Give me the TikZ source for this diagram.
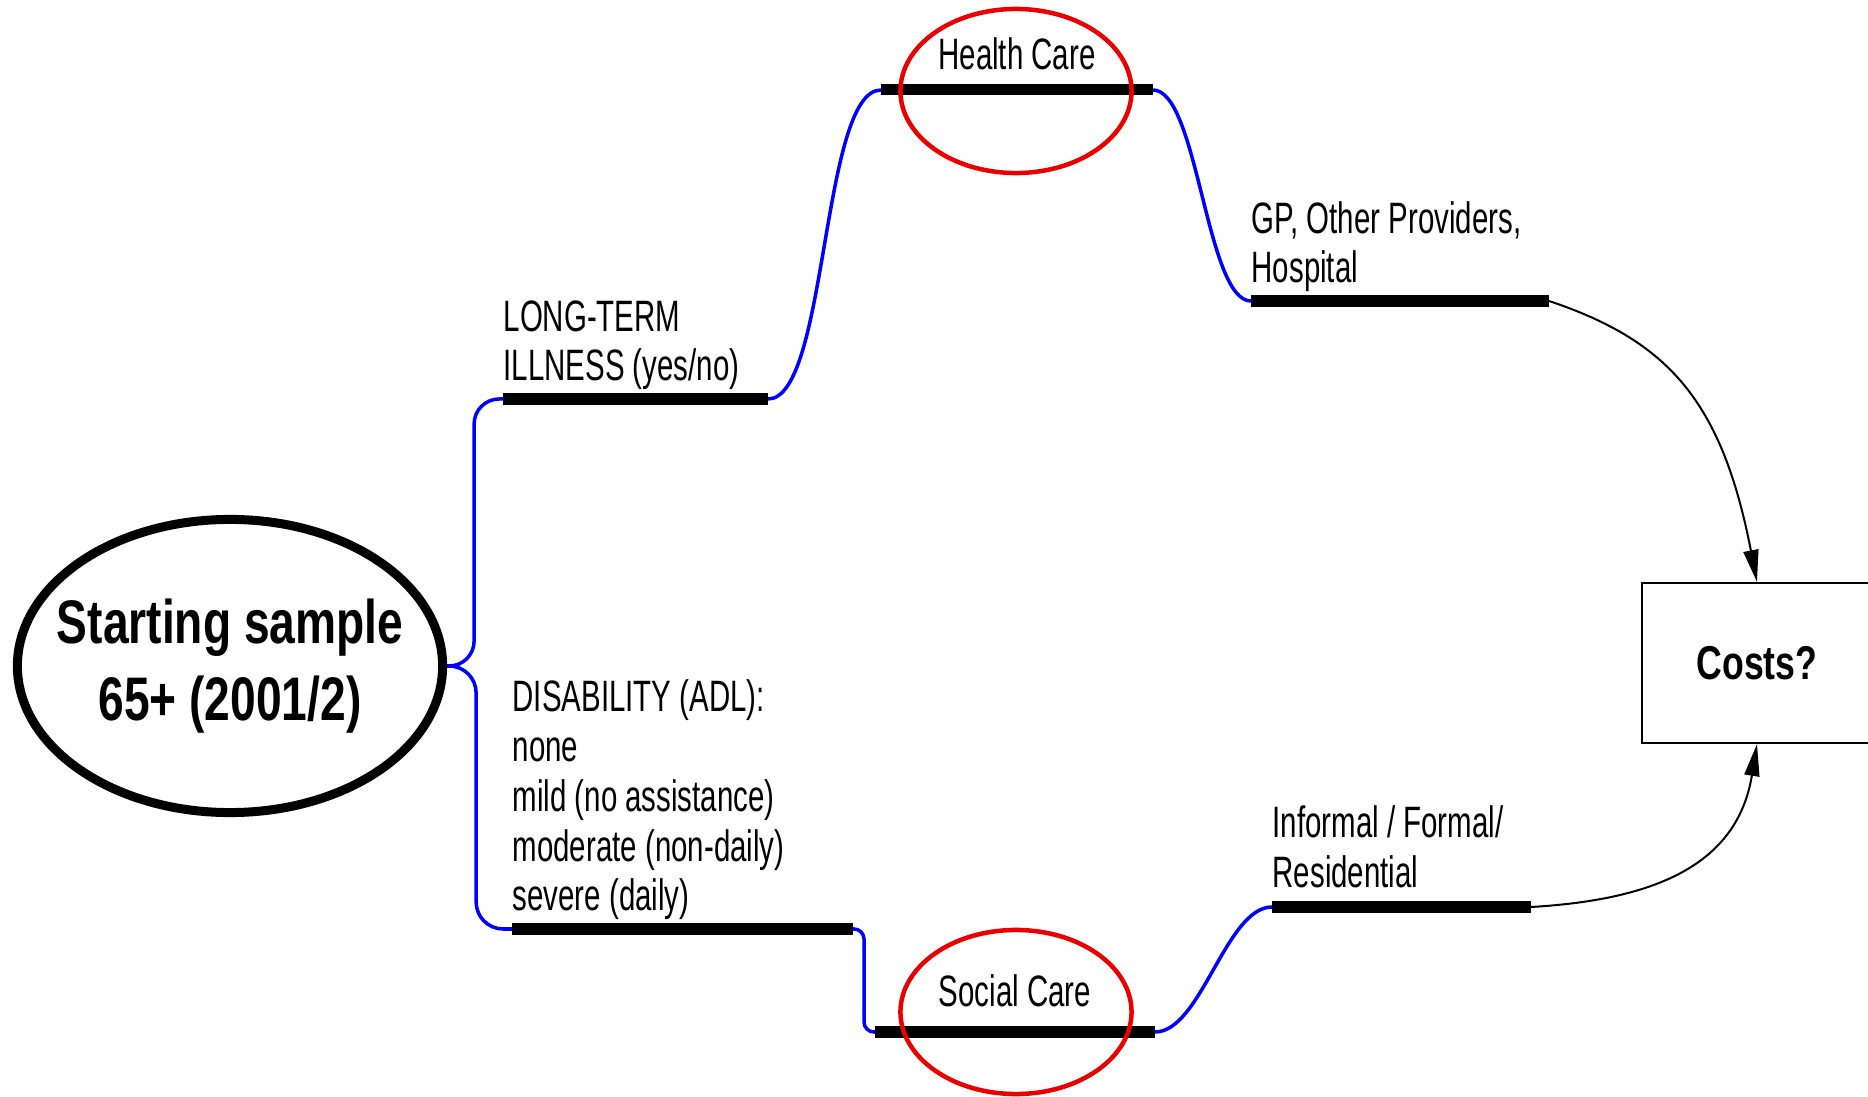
\documentclass[tikz,border=0pt]{standalone}
\usepackage{fontspec}
\setmainfont{Liberation Sans}[FakeStretch=0.67]
\newfontfamily\headFont{Liberation Sans}[FakeStretch=0.75]
\usetikzlibrary{shapes.geometric, arrows.meta, calc}
\newcommand{\tip}{{Triangle[length=0.32cm, width=0.15cm]}}
\newcommand{\barLine}{0.11cm}
\newcommand{\branchLine}{0.035cm}
\newcommand{\ringLine}{0.045cm}
\newcommand{\arrowLine}{0.02cm}
\newcommand{\textSize}{\fontsize{12.5}{14.2}\selectfont}
\definecolor{branchBlue}{RGB}{0,0,255}
\definecolor{ringRed}{RGB}{235,0,0}
\tikzstyle{bar}=[draw=black, line width=\barLine]
\tikzstyle{branch}=[draw=branchBlue, line width=\branchLine]
\tikzstyle{ring}=[ellipse, draw=ringRed, line width=\ringLine, minimum width=2.31cm, minimum height=1.64cm, inner sep=0]
\tikzstyle{branchText}=[inner sep=0, align=left, font=\textSize]
\tikzstyle{startNode}=[ellipse, draw=black, line width=0.09cm, minimum width=4.25cm, minimum height=2.93cm, inner sep=0]
\tikzstyle{startText}=[inner sep=0, align=center, font=\headFont\bfseries\fontsize{17.5}{21.9}\selectfont]
\tikzstyle{costBox}=[rectangle, draw=black, line width=\arrowLine, minimum width=2.3cm, minimum height=1.6cm, inner sep=0, font=\headFont\bfseries\fontsize{13.5}{16}\selectfont]
\tikzstyle{arrow}=[draw=black, line width=\arrowLine, -\tip]

\begin{document}
\begin{tikzpicture}[x=0.01cm, y=-0.01cm]

% Frame
\useasboundingbox (0,0) rectangle (1868,1097);

% Bar ends
\coordinate (ltL) at (503,399);  \coordinate (ltR) at (768,399);
\coordinate (hcL) at (881,90);   \coordinate (hcR) at (1153,90);
\coordinate (gpL) at (1251,301); \coordinate (gpR) at (1549,301);
\coordinate (dsL) at (512,929);  \coordinate (dsR) at (853,929);
\coordinate (scL) at (875,1032); \coordinate (scR) at (1155,1032);
\coordinate (inL) at (1272,907); \coordinate (inR) at (1531,907);

% Start and end
\node[startNode] (root) at (230,666) {};
\node[startText] (rootText) at (root.center) {Starting sample\\65+ (2001/2)};
\node[costBox] (costs) at (1757,663) {Costs?};

% Bars
\foreach \a/\b in {ltL/ltR, hcL/hcR, gpL/gpR, dsL/dsR, scL/scR, inL/inR} {
  \draw[bar] (\a) -- (\b);
  }

% Branches
\draw[branch, rounded corners=0.25cm] (root.east) -- ++(27,0) |- (ltL);
\draw[branch, rounded corners=0.27cm] (root.east) -- ++(29,0) |- (dsL);
\draw[branch, rounded corners=0.1cm] (dsR) -- ++(11,0) |- (scL);
\draw[branch] (ltR) .. controls +(60,0) and +(-60,0) .. (hcL);
\draw[branch] (hcR) .. controls +(45,0) and +(-45,0) .. (gpL);
\draw[branch] (scR) .. controls +(46,0) and +(-46,0) .. (inL);

% Texts (base = last line)
\node[branchText, anchor=base west] (ltText) at ($(ltL)+(0,-18)$) {LONG-TERM\\ILLNESS (yes/no)};
\node[branchText, anchor=base west] (gpText) at ($(gpL)+(0,-18)$) {GP, Other Providers,\\Hospital};
\node[branchText, anchor=base west] (dsText) at ($(dsL)+(0,-18)$) {DISABILITY (ADL):\\none\\mild (no assistance)\\moderate (non-daily)\\severe (daily)};
\node[branchText, anchor=base west] (inText) at ($(inL)+(0,-20)$) {Informal / Formal/\\Residential};
\node[branchText, anchor=base] (hcText) at ($(hcL)!0.5!(hcR)+(0,-20)$) {Health Care};
\node[branchText, anchor=base] (scText) at ($(scL)!0.5!(scR)+(0,-26)$) {Social Care};

% Rings
\node[ring] (hcRing) at (1016,91) {};
\node[ring] (scRing) at (1016,1012) {};

% Arrows
\draw[arrow] (gpR) .. controls +(120,40) and +(-35,-180) .. (costs.north);
\draw[arrow] (inR) .. controls +(120,-7) and +(-20,123) .. (costs.south);

\end{tikzpicture}
\end{document}
